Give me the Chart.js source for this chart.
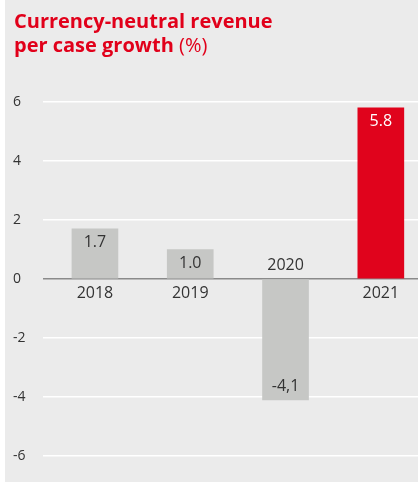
<!DOCTYPE html>
<html>
<head>
<meta charset="utf-8">
<script src="https://cdn.jsdelivr.net/npm/chart.js@4"></script>
<style>
  body { margin: 0; background: #fff; }
  #panel { position: absolute; left: 5px; top: 0; width: 413px; height: 482px; background: #ebebeb; }
  #wrap { position: absolute; left: 0; top: 0; width: 418px; height: 482px; }
  #title { position: absolute; left: 14px; top: 9px; font-family: "Open Sans", sans-serif; font-size: 20px; line-height: 24px; color: #e1001a; font-weight: bold; z-index: 2; }
  #title span { font-weight: normal; }
</style>
</head>
<body>
<div id="panel"></div>
<div id="title">Currency-neutral revenue<br>per case growth <span>(%)</span></div>
<div id="wrap"><canvas id="chart"></canvas></div>
<script>
// data
const years = ['2018', '2019', '2020', '2021'];
const values = [1.7, 1.0, -4.1, 5.8];
const valueLabels = ['1.7', '1.0', '-4,1', '5.8'];
const yTicks = [-6, -4, -2, 0, 2, 4, 6];
const highlight = 3; // 2021 is drawn in red

const textColor = '#333';

// value labels inside the bars, year labels next to the zero line
const barLabels = {
    id: 'barLabels',
    afterDatasetsDraw: function (chart) {
        const ctx = chart.ctx;
        const meta = chart.getDatasetMeta(0);
        const zero = chart.scales.y.getPixelForValue(0);
        ctx.save();
        ctx.textAlign = 'center';
        ctx.textBaseline = 'middle';
        ctx.font = '16px "Open Sans"';
        meta.data.forEach(function (bar, i) {
            const up = values[i] >= 0;
            ctx.fillStyle = i === highlight ? '#fff' : textColor;
            ctx.fillText(valueLabels[i], bar.x, up ? bar.y + 14 : bar.y - 14);
            ctx.fillStyle = textColor;
            ctx.fillText(years[i], bar.x, up ? zero + 14 : zero - 14);
        });
        ctx.restore();
    }
};

new Chart(document.getElementById('chart'), {
    type: 'bar',
    data: {
        datasets: [{
            data: values.map(function (v, i) { return { x: i, y: v }; }),
            backgroundColor: values.map(function (v, i) { return i === highlight ? '#e0031c' : '#c6c7c5'; }),
            barThickness: 46
        }]
    },
    options: {
        responsive: true,
        maintainAspectRatio: false,
        animation: false,
        layout: { padding: { left: 13, right: 0, top: 102, bottom: 26 } },
        plugins: { legend: { display: false }, tooltip: { enabled: false } },
        scales: {
            x: { type: 'linear', offset: false, min: -0.545, max: 3.39, display: false },
            y: {
                min: yTicks[0],
                max: yTicks[yTicks.length - 1],
                afterBuildTicks: function (scale) {
                    scale.ticks = yTicks.map(function (v) { return { value: v }; });
                },
                afterFit: function (scale) { scale.width = 30; },
                border: { display: false },
                grid: {
                    drawTicks: false,
                    lineWidth: 1.5,
                    color: function (c) { return c.tick && c.tick.value === 0 ? '#8a8a8a' : '#ffffff'; }
                },
                ticks: {
                    crossAlign: 'far',
                    color: textColor,
                    font: { family: 'Open Sans', size: 14 }
                }
            }
        }
    },
    plugins: [barLabels]
});
</script>
</body>
</html>
